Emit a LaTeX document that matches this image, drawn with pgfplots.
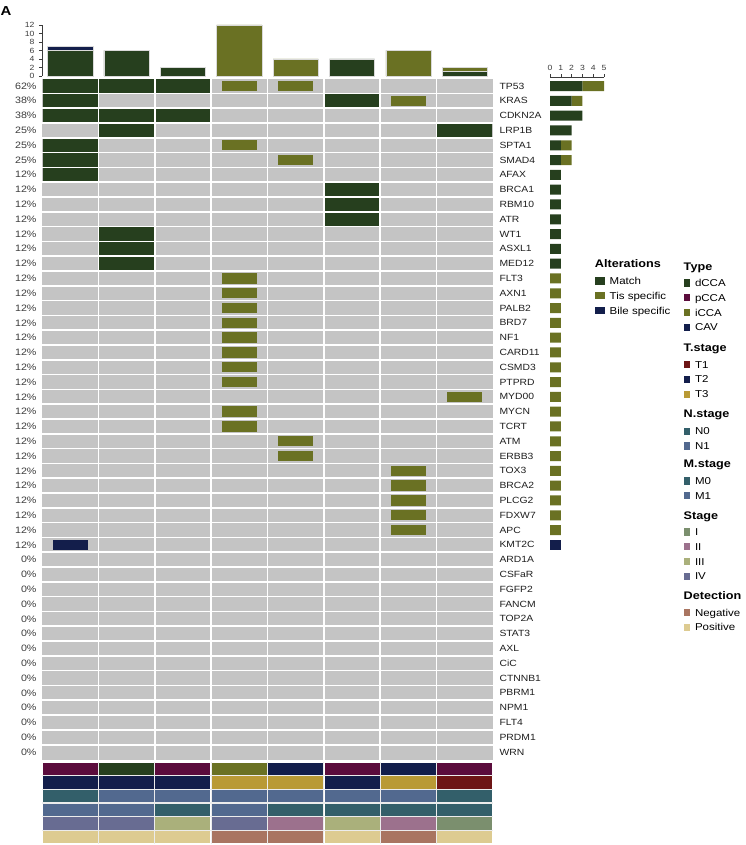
\documentclass[border=0pt]{standalone}
\usepackage{pgfplots}
\pgfplotsset{compat=1.18}
\usepackage{pgfplotstable}
\usepackage{fontspec}
\setmainfont{Liberation Sans}[FakeStretch=1.15]

\definecolor{matchc}{RGB}{38,63,30}
\definecolor{tisc}{RGB}{106,113,35}
\definecolor{bilec}{RGB}{19,30,75}
\definecolor{cellg}{RGB}{196,196,196}
\definecolor{pccac}{RGB}{91,12,60}
\definecolor{tonec}{RGB}{109,21,21}
\definecolor{tthreec}{RGB}{185,154,53}
\definecolor{nzc}{RGB}{51,95,106}
\definecolor{nonec}{RGB}{82,105,143}
\definecolor{sIc}{RGB}{123,143,110}
\definecolor{sIIc}{RGB}{156,113,141}
\definecolor{sIIIc}{RGB}{170,176,123}
\definecolor{sIVc}{RGB}{104,108,146}
\definecolor{negc}{RGB}{169,117,97}
\definecolor{posc}{RGB}{221,203,145}
\definecolor{tickc}{RGB}{60,60,60}
\definecolor{labc}{RGB}{30,30,30}

\pgfdeclareplotmark{fullcell}{\pgfpathrectangle{\pgfpoint{-27.4pt}{-6.6pt}}{\pgfpoint{54.8pt}{13.2pt}}\pgfusepath{fill}}
\pgfdeclareplotmark{smallcell}{\pgfpathrectangle{\pgfpoint{-17.4pt}{-5.2pt}}{\pgfpoint{34.8pt}{10.4pt}}\pgfusepath{fill}}
\pgfdeclareplotmark{annotcell}{\pgfpathrectangle{\pgfpoint{-27.5pt}{-6.2pt}}{\pgfpoint{55pt}{12.4pt}}\pgfusepath{fill}}

% main grid cells (x = column centre, y = row centre, row 0 = TP53)
\pgfplotstableread{
x y
0.5 0.5
0.5 1.5
0.5 2.5
0.5 4.5
0.5 5.5
0.5 6.5
1.5 0.5
1.5 2.5
1.5 3.5
1.5 10.5
1.5 11.5
1.5 12.5
2.5 0.5
2.5 2.5
5.5 1.5
5.5 7.5
5.5 8.5
5.5 9.5
7.5 3.5
}\matchtab
\pgfplotstableread{
x y
3.5 0.5
3.5 4.5
3.5 13.5
3.5 14.5
3.5 15.5
3.5 16.5
3.5 17.5
3.5 18.5
3.5 19.5
3.5 20.5
3.5 22.5
3.5 23.5
4.5 0.5
4.5 5.5
4.5 24.5
4.5 25.5
6.5 1.5
6.5 26.5
6.5 27.5
6.5 28.5
6.5 29.5
6.5 30.5
7.5 21.5
}\tistab
\pgfplotstableread{
x y
0.5 31.5
}\biletab

% top bars: per sample
\pgfplotstableread{
x m t b
0.5 6 0 1
1.5 6 0 0
2.5 2 0 0
3.5 0 12 0
4.5 0 4 0
5.5 4 0 0
6.5 0 6 0
7.5 1 1 0
}\toptab

% right bars: per gene (y = 45.5 - row)
\pgfplotstableread{
y m t b
45.5 3 2 0
44.5 2 1 0
43.5 3 0 0
42.5 2 0 0
41.5 1 1 0
40.5 1 1 0
39.5 1 0 0
38.5 1 0 0
37.5 1 0 0
36.5 1 0 0
35.5 1 0 0
34.5 1 0 0
33.5 1 0 0
32.5 0 1 0
31.5 0 1 0
30.5 0 1 0
29.5 0 1 0
28.5 0 1 0
27.5 0 1 0
26.5 0 1 0
25.5 0 1 0
24.5 0 1 0
23.5 0 1 0
22.5 0 1 0
21.5 0 1 0
20.5 0 1 0
19.5 0 1 0
18.5 0 1 0
17.5 0 1 0
16.5 0 1 0
15.5 0 1 0
14.5 0 0 1
}\righttab

% annotation tracks
\pgfplotstableread{
x y c
0.5 0.5 pCCA
1.5 0.5 dCCA
2.5 0.5 pCCA
3.5 0.5 iCCA
4.5 0.5 CAV
5.5 0.5 pCCA
6.5 0.5 CAV
7.5 0.5 pCCA
0.5 1.5 T2
1.5 1.5 T2
2.5 1.5 T2
3.5 1.5 T3
4.5 1.5 T3
5.5 1.5 T2
6.5 1.5 T3
7.5 1.5 T1
0.5 2.5 N0
1.5 2.5 N1
2.5 2.5 N1
3.5 2.5 N1
4.5 2.5 N1
5.5 2.5 N1
6.5 2.5 N1
7.5 2.5 N0
0.5 3.5 M1
1.5 3.5 M1
2.5 3.5 M0
3.5 3.5 M1
4.5 3.5 M0
5.5 3.5 M0
6.5 3.5 M0
7.5 3.5 M0
0.5 4.5 IV
1.5 4.5 IV
2.5 4.5 III
3.5 4.5 IV
4.5 4.5 II
5.5 4.5 III
6.5 4.5 II
7.5 4.5 I
0.5 5.5 Pos
1.5 5.5 Pos
2.5 5.5 Pos
3.5 5.5 Neg
4.5 5.5 Neg
5.5 5.5 Pos
6.5 5.5 Neg
7.5 5.5 Pos
}\annottab

\pgfplotsset{
  legsty/.style={hide axis, scale only axis, width=1pt, height=1pt,
    xmin=0, xmax=1, ymin=0, ymax=1, anchor=north west,
    legend cell align=left,
    legend style={at={(0,1)}, anchor=north west, draw=none, fill=none,
      inner sep=0pt, outer sep=0pt, row sep=0pt, column sep=5pt,
      font=\fontsize{10}{10}\selectfont,
      nodes={inner sep=0pt, text height=10.8pt, text depth=4pt},
      cells={anchor=west}}},
  swA/.style={legend image code/.code={\fill[##1, draw=none] (0pt,-3.65pt) rectangle (10pt,3.65pt);}},
  swB/.style={legend image code/.code={\fill[##1, draw=none] (0pt,-3.65pt) rectangle (6.5pt,3.65pt);}},
}

\begin{document}
\begin{tikzpicture}
\useasboundingbox (0pt,0pt) rectangle (746pt,-845pt);

\node[anchor=north west, inner sep=0pt, font=\bfseries\fontsize{13}{13}\selectfont] at (0.5pt,-6pt) {A};

% ---------- top bar chart ----------
\begin{axis}[at={(42pt,-76pt)}, anchor=south west, scale only axis,
  width=451pt, height=51pt, xmin=0, xmax=8, ymin=0, ymax=12,
  ybar stacked, bar width=45.3pt,
  axis x line=none, axis y line*=left,
  ytick={0,2,...,12}, tick align=outside, major tick length=3pt,
  y axis line style={tickc, line width=0.6pt},
  ytick style={tickc, line width=0.6pt},
  yticklabel style={font=\fontsize{7.5}{7.5}\selectfont, text=tickc, xshift=-1pt},
  /pgf/number format/assume math mode=true, clip=false]
\addplot[fill=matchc, draw=gray!30, line width=0.5pt] table[x=x, y=m] {\toptab};
\addplot[fill=tisc, draw=gray!30, line width=0.5pt] table[x=x, y=t] {\toptab};
\addplot[fill=bilec, draw=gray!30, line width=0.5pt] table[x=x, y=b] {\toptab};
\end{axis}

% ---------- main oncoprint grid ----------
\begin{axis}[at={(42pt,-78.5pt)}, anchor=north west, scale only axis,
  width=451pt, height=681pt, xmin=0, xmax=8, ymin=0, ymax=46, y dir=reverse,
  axis background/.style={fill=cellg},
  axis line style={draw=none}, tick style={draw=none}, major tick length=0pt,
  xtick={1,...,7}, xticklabels={}, xmajorgrids=true,
  ytick={0.5,1.5,...,45.5},
  yticklabels={TP53,KRAS,CDKN2A,LRP1B,SPTA1,SMAD4,AFAX,BRCA1,RBM10,ATR,WT1,ASXL1,MED12,FLT3,AXN1,PALB2,BRD7,NF1,CARD11,CSMD3,PTPRD,MYD00,MYCN,TCRT,ATM,ERBB3,TOX3,BRCA2,PLCG2,FDXW7,APC,KMT2C,ARD1A,CSFaR,FGFP2,FANCM,TOP2A,STAT3,AXL,CiC,CTNNB1,PBRM1,NPM1,FLT4,PRDM1,WRN},
  yticklabel pos=right,
  yticklabel style={font=\fontsize{9}{9}\selectfont, text=labc, anchor=west, xshift=3pt},
  extra y ticks={1,2,...,45}, extra y tick labels={},
  extra y tick style={ymajorgrids=true},
  major grid style={white, line width=1.6pt},
  axis on top, clip=false]
\addplot[matchc, only marks, mark=fullcell] table[x=x, y=y] {\matchtab};
\addplot[tisc, only marks, mark=smallcell] table[x=x, y=y] {\tistab};
\addplot[bilec, only marks, mark=smallcell] table[x=x, y=y] {\biletab};
\end{axis}

% ---------- percentage labels ----------
\begin{axis}[at={(42pt,-78.5pt)}, anchor=north west, scale only axis,
  width=451pt, height=681pt, xmin=0, xmax=8, ymin=0, ymax=46, y dir=reverse,
  axis line style={draw=none}, tick style={draw=none}, major tick length=0pt,
  xtick=\empty,
  ytick={0.5,1.5,...,45.5},
  yticklabels={62\%,38\%,38\%,25\%,25\%,25\%,12\%,12\%,12\%,12\%,12\%,12\%,12\%,12\%,12\%,12\%,12\%,12\%,12\%,12\%,12\%,12\%,12\%,12\%,12\%,12\%,12\%,12\%,12\%,12\%,12\%,12\%,0\%,0\%,0\%,0\%,0\%,0\%,0\%,0\%,0\%,0\%,0\%,0\%,0\%,0\%},
  yticklabel pos=left,
  yticklabel style={font=\fontsize{9.3}{9.3}\selectfont, text=tickc, anchor=east, xshift=-2pt}]
\end{axis}

% ---------- right bar chart ----------
\begin{axis}[at={(550pt,-759.5pt)}, anchor=south west, scale only axis,
  width=54pt, height=682.3pt, xmin=0, xmax=5, ymin=0, ymax=46.1,
  xbar stacked, bar width=10pt,
  axis y line=none, axis x line*=top,
  xtick={0,1,...,5}, tick align=outside, major tick length=3pt,
  x axis line style={tickc, line width=0.6pt},
  xtick style={tickc, line width=0.6pt},
  xticklabel style={font=\fontsize{7.5}{7.5}\selectfont, text=tickc},
  /pgf/number format/assume math mode=true, clip=false]
\addplot[fill=matchc, draw=none] table[x=m, y=y] {\righttab};
\addplot[fill=tisc, draw=none] table[x=t, y=y] {\righttab};
\addplot[fill=bilec, draw=none] table[x=b, y=y] {\righttab};
\end{axis}

% ---------- annotation tracks ----------
\begin{axis}[at={(42pt,-762pt)}, anchor=north west, scale only axis,
  width=451pt, height=82pt, xmin=0, xmax=8, ymin=0, ymax=6, y dir=reverse,
  axis line style={draw=none}, tick style={draw=none}, major tick length=0pt,
  xtick={1,...,7}, ytick={1,...,5}, xticklabels={}, yticklabels={},
  grid=major, major grid style={white!85!gray, line width=1.2pt},
  axis on top, clip=false]
\addplot[scatter, only marks, mark=annotcell, scatter src=explicit symbolic,
  scatter/classes={
    dCCA={mark=annotcell, matchc}, pCCA={mark=annotcell, pccac},
    iCCA={mark=annotcell, tisc}, CAV={mark=annotcell, bilec},
    T1={mark=annotcell, tonec}, T2={mark=annotcell, bilec}, T3={mark=annotcell, tthreec},
    N0={mark=annotcell, nzc}, N1={mark=annotcell, nonec},
    M0={mark=annotcell, nzc}, M1={mark=annotcell, nonec},
    I={mark=annotcell, sIc}, II={mark=annotcell, sIIc},
    III={mark=annotcell, sIIIc}, IV={mark=annotcell, sIVc},
    Neg={mark=annotcell, negc}, Pos={mark=annotcell, posc}}]
  table[x=x, y=y, meta=c] {\annottab};
\end{axis}

% ---------- legends ----------
\node[anchor=base west, inner sep=0pt, font=\bfseries\fontsize{11}{11}\selectfont] at (594.7pt,-267.8pt) {Alterations};
\begin{axis}[legsty, swA, at={(594.7pt,-273.6pt)}]
\addlegendimage{fill=matchc}\addlegendentry{Match}
\addlegendimage{fill=tisc}\addlegendentry{Tis specific}
\addlegendimage{fill=bilec}\addlegendentry{Bile specific}
\end{axis}

\node[anchor=base west, inner sep=0pt, font=\bfseries\fontsize{11}{11}\selectfont] at (683.5pt,-270pt) {Type};
\begin{axis}[legsty, swB, at={(683.5pt,-275.6pt)}]
\addlegendimage{fill=matchc}\addlegendentry{dCCA}
\addlegendimage{fill=pccac}\addlegendentry{pCCA}
\addlegendimage{fill=tisc}\addlegendentry{iCCA}
\addlegendimage{fill=bilec}\addlegendentry{CAV}
\end{axis}

\node[anchor=base west, inner sep=0pt, font=\bfseries\fontsize{11}{11}\selectfont] at (683.5pt,-351pt) {T.stage};
\begin{axis}[legsty, swB, at={(683.5pt,-357.3pt)}]
\addlegendimage{fill=tonec}\addlegendentry{T1}
\addlegendimage{fill=bilec}\addlegendentry{T2}
\addlegendimage{fill=tthreec}\addlegendentry{T3}
\end{axis}

\node[anchor=base west, inner sep=0pt, font=\bfseries\fontsize{11}{11}\selectfont] at (683.5pt,-417pt) {N.stage};
\begin{axis}[legsty, swB, at={(683.5pt,-423.9pt)}]
\addlegendimage{fill=nzc}\addlegendentry{N0}
\addlegendimage{fill=nonec}\addlegendentry{N1}
\end{axis}

\node[anchor=base west, inner sep=0pt, font=\bfseries\fontsize{11}{11}\selectfont] at (683.5pt,-467pt) {M.stage};
\begin{axis}[legsty, swB, at={(683.5pt,-473.6pt)}]
\addlegendimage{fill=nzc}\addlegendentry{M0}
\addlegendimage{fill=nonec}\addlegendentry{M1}
\end{axis}

\node[anchor=base west, inner sep=0pt, font=\bfseries\fontsize{11}{11}\selectfont] at (683.5pt,-519pt) {Stage};
\begin{axis}[legsty, swB, at={(683.5pt,-524.6pt)}]
\addlegendimage{fill=sIc}\addlegendentry{I}
\addlegendimage{fill=sIIc}\addlegendentry{II}
\addlegendimage{fill=sIIIc}\addlegendentry{III}
\addlegendimage{fill=sIVc}\addlegendentry{IV}
\end{axis}

\node[anchor=base west, inner sep=0pt, font=\bfseries\fontsize{11}{11}\selectfont] at (683.5pt,-599.5pt) {Detection};
\begin{axis}[legsty, swB, at={(683.5pt,-605.3pt)}]
\addlegendimage{fill=negc}\addlegendentry{Negative}
\addlegendimage{fill=posc}\addlegendentry{Positive}
\end{axis}

\end{tikzpicture}
\end{document}
